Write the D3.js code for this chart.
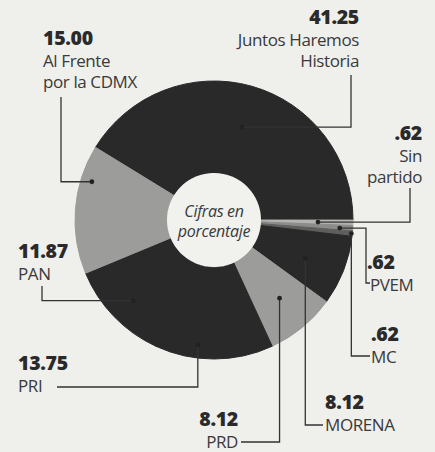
<!DOCTYPE html>
<html>
<head>
<meta charset="utf-8">
<script src="https://cdn.jsdelivr.net/npm/d3@7"></script>
<style>
  html, body { margin: 0; padding: 0; background: #efefec; }
  svg { display: block; }
  .num { font-family: "Open Sans", sans-serif; font-weight: 800; font-size: 19.5px; fill: #2a2a2a; letter-spacing: -0.3px; }
  .lab { font-family: "Open Sans", sans-serif; font-weight: 400; font-size: 17px; fill: #3a3a3a; letter-spacing: -0.4px; }
  .ctr { font-family: "Open Sans", sans-serif; font-style: italic; font-size: 16px; fill: #3a3a3a; letter-spacing: -0.3px; }
</style>
</head>
<body>
<svg id="chart"></svg>
<script>
// data
var parties = ["Juntos Haremos Historia", "Sin partido", "PVEM", "MC", "MORENA", "PRD", "PRI", "PAN", "Al Frente por la CDMX"];
var values = [41.25, 0.62, 0.62, 0.62, 8.12, 8.12, 13.75, 11.87, 15.00];
var valueLabels = ["41.25", ".62", ".62", ".62", "8.12", "8.12", "13.75", "11.87", "15.00"];
var nameLines = [["Juntos Haremos", "Historia"], ["Sin", "partido"], ["PVEM"], ["MC"], ["MORENA"], ["PRD"], ["PRI"], ["PAN"], ["Al Frente", "por la CDMX"]];
var centerText = ["Cifras en", "porcentaje"];

var width = 435, height = 452;
var cx = 214, cy = 220, rOut = 139, rIn = 47;

var colors = ["#292929", "#b4b4b2", "#8c8c8a", "#5e5e5c", "#292929", "#9c9c9a", "#292929", "#292929", "#9c9c9a"];

// label layout: dot radius / angle tweak, leader route, text block
var layout = [
  {r: 97,  da: 1,   kind: "h", ex: 351, ey: 75,  tx: 359, ty: 24,  anchor: "end"},
  {r: 104, da: 0,   kind: "h", ex: 410, ey: 188, tx: 422, ty: 140, anchor: "end"},
  {r: 126, da: 0.3, kind: "h", ex: 366, ey: 283, ex2: 370, tx: 367, ty: 269, anchor: "start", nx: 370},
  {r: 138, da: 0,   kind: "v", ey: 356, ex: 370, tx: 371, ty: 341, anchor: "start"},
  {r: 99,  da: 1.4, kind: "v", ey: 425, ex: 323, tx: 325, ty: 409, anchor: "start"},
  {r: 102, da: -0.6,kind: "v", ey: 442, ex: 241, tx: 238, ty: 426, anchor: "end"},
  {r: 126, da: 7.4, kind: "v", ey: 387, ex: 57,  tx: 18,  ty: 370, anchor: "start"},
  {r: 114, da: -1.1,kind: "h", ex: 42,  ey: 286, tx: 18,  ty: 258, anchor: "start"},
  {r: 128, da: 12.9,kind: "h", ex: 61,  ey: 97,  tx: 43,  ty: 45,  anchor: "start"}
];

var svg = d3.select("#chart")
    .attr("width", width)
    .attr("height", height);

var g = svg.append("g")
    .attr("transform", "translate(" + cx + "," + cy + ")");

var start = -58.5 * Math.PI / 180;
var pie = d3.pie()
    .sort(null)
    .value(function(d) { return d; })
    .startAngle(start)
    .endAngle(start + 2 * Math.PI);

var arc = d3.arc()
    .innerRadius(rIn)
    .outerRadius(rOut);

var arcs = pie(values);

g.selectAll("path.slice")
    .data(arcs)
    .enter().append("path")
    .attr("class", "slice")
    .attr("d", arc)
    .attr("fill", function(d, i) { return colors[i]; })
    .attr("stroke", function(d, i) { return colors[i]; })
    .attr("stroke-width", 1);

// inner disc
g.append("circle")
    .attr("r", rIn)
    .attr("fill", "#f1f1ee");

g.selectAll("text.ctr")
    .data(centerText)
    .enter().append("text")
    .attr("class", "ctr")
    .attr("text-anchor", "middle")
    .attr("x", 0)
    .attr("y", function(d, i) { return -3 + i * 20; })
    .text(function(d) { return d; });

// leaders
function dotPos(d, i) {
    var a = (d.startAngle + d.endAngle) / 2 + layout[i].da * Math.PI / 180;
    return [cx + layout[i].r * Math.sin(a), cy - layout[i].r * Math.cos(a)];
}

var lead = svg.append("g");

arcs.forEach(function(d, i) {
    var L = layout[i];
    var p = dotPos(d, i);
    var pts = [p];
    if (L.kind == "h") {
        pts.push([L.ex, p[1]]);
        pts.push([L.ex, L.ey]);
        if (L.ex2) pts.push([L.ex2, L.ey]);
    } else {
        pts.push([p[0], L.ey]);
        pts.push([L.ex, L.ey]);
    }
    lead.append("path")
        .attr("d", d3.line()(pts))
        .attr("fill", "none")
        .attr("stroke", "#333")
        .attr("stroke-width", 1.3);
    lead.append("circle")
        .attr("cx", p[0])
        .attr("cy", p[1])
        .attr("r", 2.4)
        .attr("fill", "#222");

    // text block
    var t = svg.append("g");
    t.append("text")
        .attr("class", "num")
        .attr("x", L.tx)
        .attr("y", L.ty)
        .attr("text-anchor", L.anchor)
        .text(valueLabels[i]);
    nameLines[i].forEach(function(s, j) {
        t.append("text")
            .attr("class", "lab")
            .attr("x", L.nx != null ? L.nx : L.tx)
            .attr("y", L.ty + 22 + j * 21)
            .attr("text-anchor", L.anchor)
            .text(s);
    });
});
</script>
</body>
</html>
